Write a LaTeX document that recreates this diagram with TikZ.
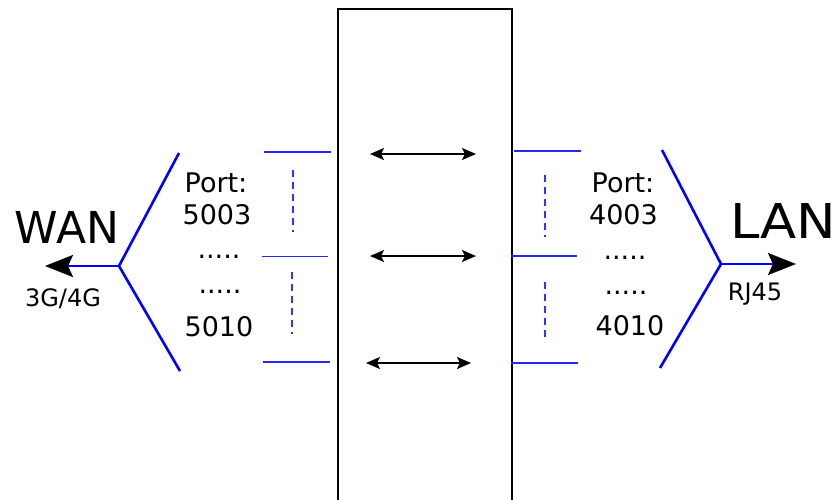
\documentclass[tikz,border=0pt]{standalone}
\usepackage{fontspec}
\setmainfont{DejaVu Sans}
\usetikzlibrary{arrows.meta}

\tikzset{
  fork/.style={draw=blue,line width=2.6pt},
  link/.style={draw=blue!85,line width=1.8pt},
  gapline/.style={draw=blue!80,line width=1.5pt,dash pattern=on 7pt off 5pt},
  port/.style={anchor=base,inner sep=0pt,font=\fontsize{27}{32}\selectfont},
  small/.style={anchor=base,inner sep=0pt,font=\fontsize{24}{28}\selectfont},
  pass/.style={line width=2pt,{Stealth[length=14pt,width=12pt,inset=3pt]}-{Stealth[length=14pt,width=12pt,inset=3pt]}},
  uplink/.style={draw=blue,line width=2.6pt,-{Stealth[length=28pt,width=22pt,inset=5pt,color=black]}}
}

\begin{document}
\begin{tikzpicture}[x=1pt,y=-1pt]

\useasboundingbox (0,0) rectangle (836,499);

\node[draw,line width=2.4pt,minimum width=174pt,minimum height=520pt,inner sep=0pt,anchor=north west]
(router)
at (337,8)
{};

% WAN side
\node[anchor=base,inner sep=0pt,font=\fontsize{44}{50}\selectfont]
(wan)
at (67,243)
{WAN};

\node[small]
(wanlink)
at (63,306)
{3G/4G};

\coordinate (wanfork) at (119,266);
\coordinate (wantop) at (179,153);
\coordinate (wanbot) at (180,371);
\coordinate (wanend) at (45,266);

\draw[fork] (wantop) -- (wanfork) -- (wanbot);
\draw[uplink] (wanfork) -- (wanend);

\node[port]
(wanport)
at (216,192)
{Port:};

\node[port]
(wanfirst)
at (217,224)
{5003};

\node[port]
(wandotsa)
at (219,258)
{.....};

\node[port]
(wandotsb)
at (220,293)
{.....};

\node[port]
(wanlast)
at (219,336)
{5010};

\draw[link] (264,152) -- (331,152);
\draw[link] (262,256.5) -- (328,256.5);
\draw[link] (263,362) -- (330,362);
\draw[gapline] (293,170) -- (293,232);
\draw[gapline] (292,272) -- (292,334);

% LAN side
\node[anchor=base west,inner sep=0pt,font=\fontsize{48}{54}\selectfont]
(lan)
at (730,238)
{\scalebox{1.1}[1]{LAN}};

\node[small]
(lanlink)
at (755,300)
{RJ45};

\coordinate (lanfork) at (721,264);
\coordinate (lantop) at (662,150);
\coordinate (lanbot) at (660,368);
\coordinate (lanend) at (796,264);

\draw[fork] (lantop) -- (lanfork) -- (lanbot);
\draw[uplink] (lanfork) -- (lanend);

\node[port]
(lanport)
at (623,192)
{Port:};

\node[port]
(lanfirst)
at (623.5,224)
{4003};

\node[port]
(landotsa)
at (625,259)
{.....};

\node[port]
(landotsb)
at (626,294)
{.....};

\node[port]
(lanlast)
at (630,335)
{4010};

\draw[link] (514,151) -- (581,151);
\draw[link] (511,256) -- (577,256);
\draw[link] (511,363) -- (578,363);
\draw[gapline] (545,175) -- (545,237);
\draw[gapline] (545,282) -- (545,342);

% through the box
\coordinate (passal) at (370,154);
\coordinate (passar) at (476,154);
\coordinate (passbl) at (370,256);
\coordinate (passbr) at (476,256);
\coordinate (passcl) at (366,363);
\coordinate (passcr) at (471,363);

\draw[pass] (passal) -- (passar);
\draw[pass] (passbl) -- (passbr);
\draw[pass] (passcl) -- (passcr);

\end{tikzpicture}
\end{document}
